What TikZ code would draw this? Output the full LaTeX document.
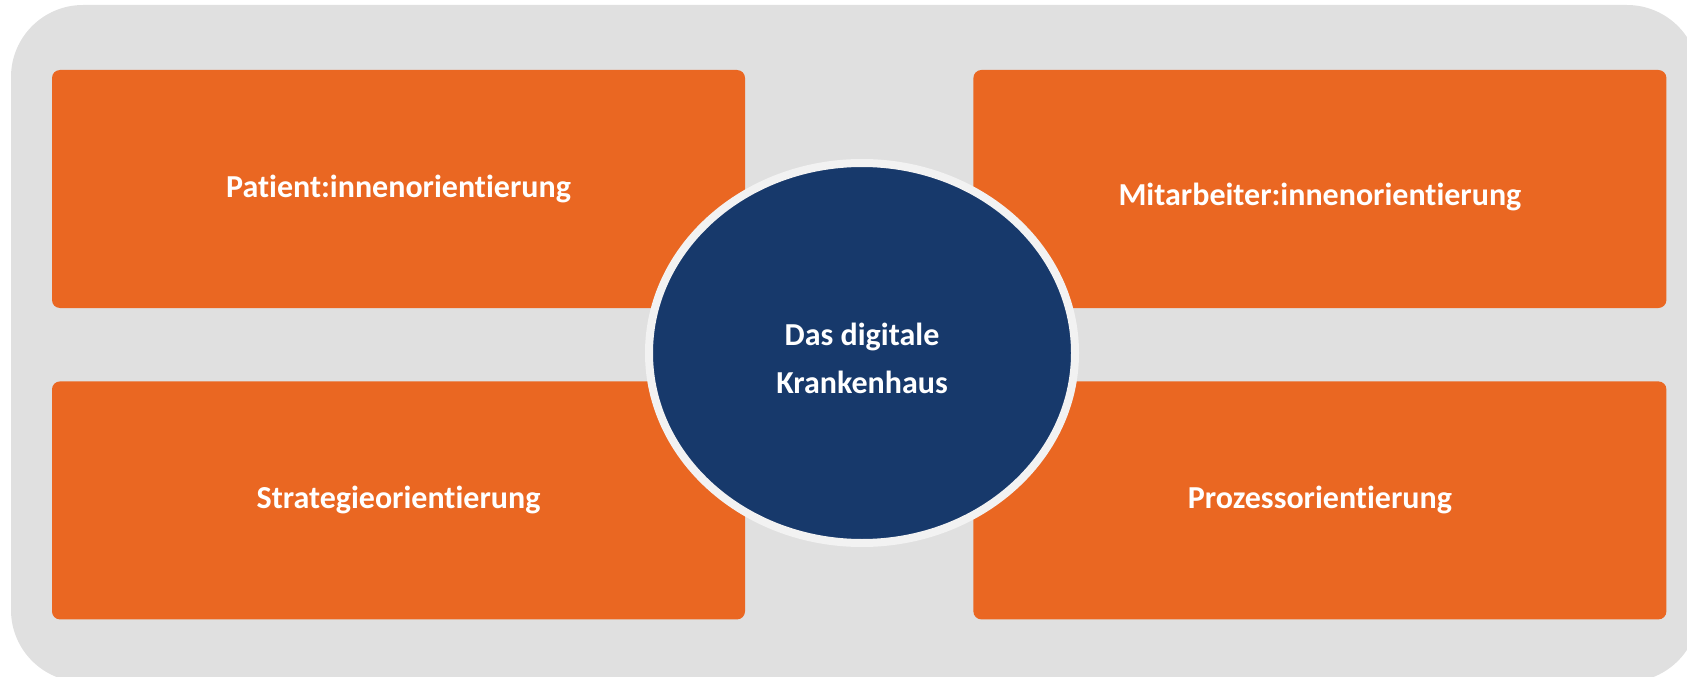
\documentclass[tikz,border=0pt]{standalone}
\usepackage{fontspec}
\setmainfont{Carlito}[Ligatures=NoCommon]
\usetikzlibrary{positioning,shapes.geometric}
\definecolor{bggray}{HTML}{E0E0E0}
\definecolor{boxorange}{HTML}{EA6722}
\definecolor{hubblue}{HTML}{17396B}
\definecolor{rimwhite}{HTML}{F2F2F2}
\newcommand{\lowered}[2]{\raisebox{-#1}[\height][\depth]{#2}}
\tikzset{
  orange box/.style={
    fill=boxorange,
    rounded corners=8pt,
    minimum width=693pt,
    minimum height=238pt,
    text=white,
    font=\fontsize{32}{38}\selectfont\bfseries,
  },
  hub/.style={
    ellipse,
    fill=hubblue,
    draw=rimwhite,
    line width=8pt,
    minimum width=426pt,
    minimum height=380pt,
    text=white,
    align=center,
    font=\fontsize{32}{48}\selectfont\bfseries,
  }
}
\begin{document}
\begin{tikzpicture}[x=1pt,y=1pt]
    \useasboundingbox (0,0) rectangle (1687,-677);
    \fill [bggray, rounded corners=72pt] (11,-5) rectangle (1699,-682);

    \node [orange box] (pat) at (398.5,-189) {Patient:innenorientierung};
    \node [orange box, right=228pt of pat] (mit) {\lowered{8pt}{Mitarbeiter:innenorientierung}};
    \node [orange box, below=73pt of pat] (str) {Strategieorientierung};
    \node [orange box, below=73pt of mit] (pro) {Prozessorientierung};

    \node [hub] (dk) at (862,-353) {\lowered{5pt}{Das digitale}\\\lowered{5pt}{Krankenhaus}};
\end{tikzpicture}
\end{document}
